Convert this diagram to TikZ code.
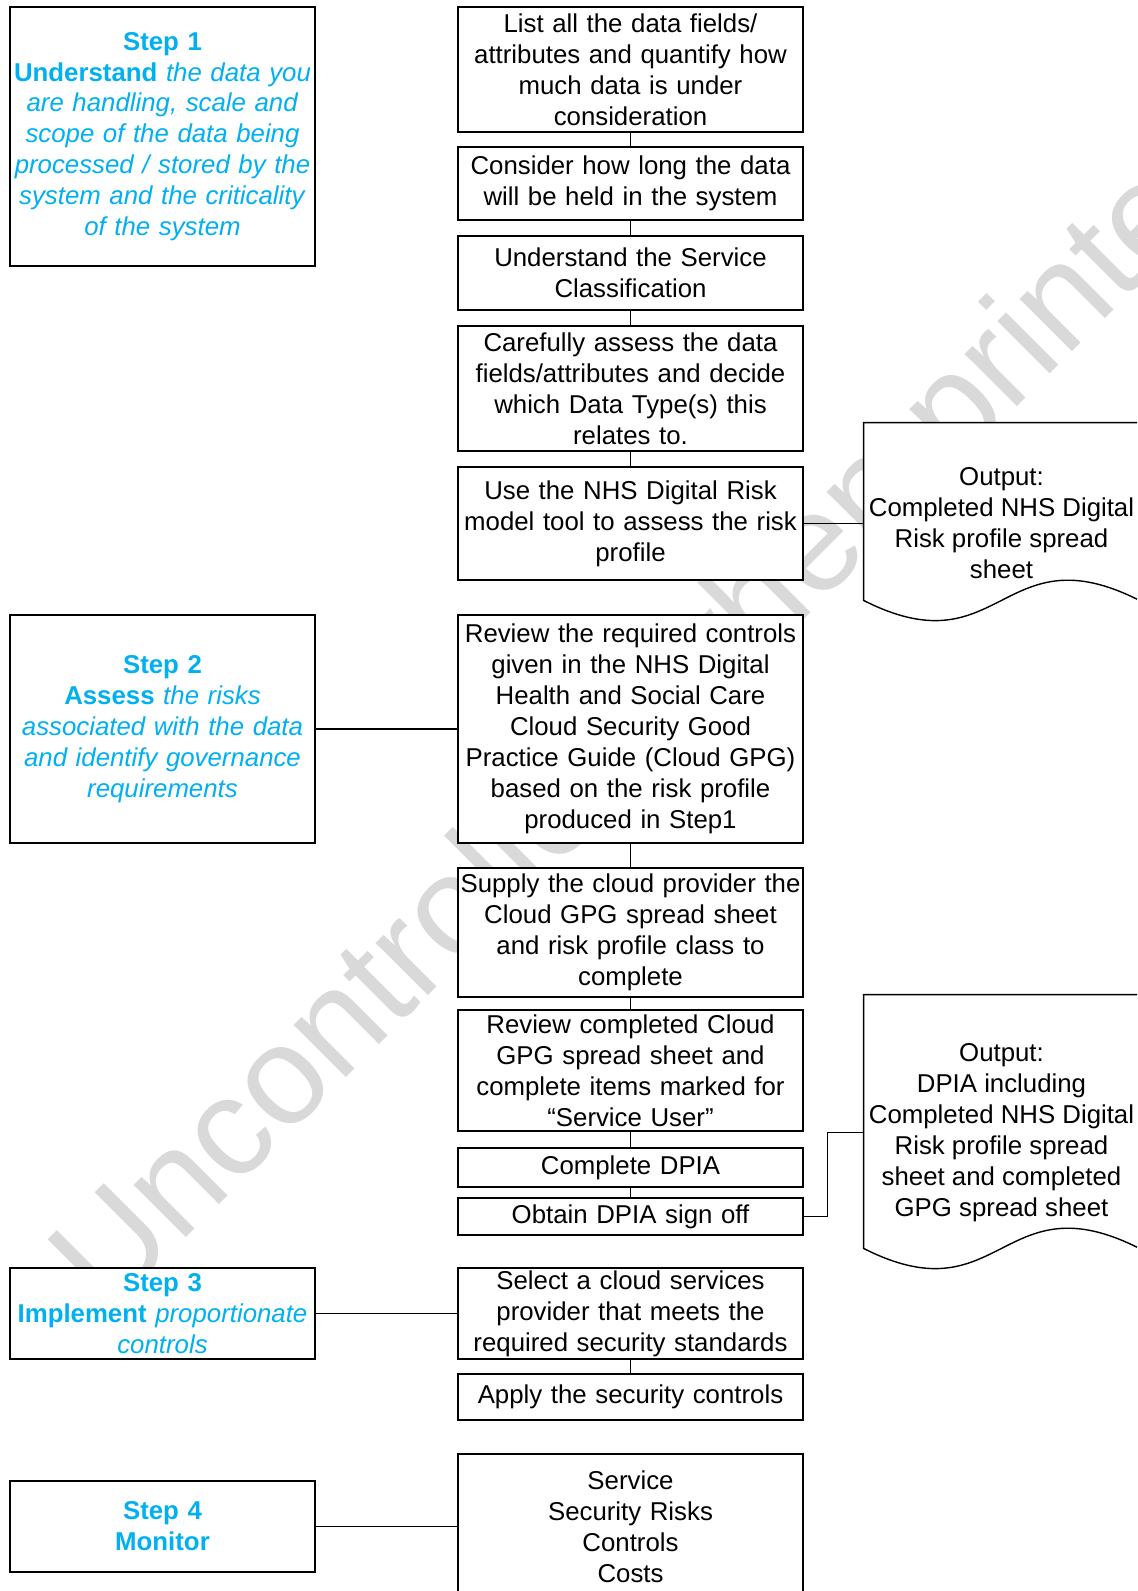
\documentclass[tikz,border=0pt]{standalone}
\usepackage{fontspec}
\setmainfont{Liberation Sans}
\usetikzlibrary{calc}

\definecolor{stepblue}{HTML}{00B0F0}
\definecolor{wmgray}{HTML}{D9D9D9}

\tikzset{
  box/.style={draw, line width=0.7pt, fill=white, inner sep=0pt, align=center,
    font=\fontsize{12.9}{15.45}\selectfont},
  taskbox/.style={box, text width=172.5pt, minimum width=172.5pt},
  stepbox/.style={box, text width=152.5pt, minimum width=152.5pt, text=stepblue},
  docframe/.style={minimum width=137.5pt, inner sep=0pt},
  doctext/.style={align=center, inner sep=0pt, font=\fontsize{12.9}{15.45}\selectfont},
  link/.style={line width=0.7pt},
  watermark/.style={text=wmgray, inner sep=0pt, font=\fontsize{70}{84}\selectfont}
}

\begin{document}
\begin{tikzpicture}[x=0.5pt, y=-0.5pt]

\useasboundingbox (0,0) rectangle (1137,1591);
\clip (0,0) rectangle (1137,1591);

% watermark
\node[watermark, anchor=base west, rotate=45] (wm) at (108,1316) {Uncontrolled when printed};

% output documents
\node[docframe, minimum height=88.5pt] (out1) at (1001.5,511.5) {};
\draw[link, fill=white] (out1.north west) -- (out1.north east) -- (out1.south east)
  .. controls ($(out1.south)+(0,-70)$) and ($(out1.south)+(0,70)$) .. (out1.south west) -- cycle;
\node[doctext] (out1txt) at ($(out1)+(0,11.5)$) {Output:\\Completed NHS Digital\\Risk profile spread\\sheet};

\node[docframe, minimum height=126.5pt] (out2) at (1001.5,1121.5) {};
\draw[link, fill=white] (out2.north west) -- (out2.north east) -- (out2.south east)
  .. controls ($(out2.south)+(0,-70)$) and ($(out2.south)+(0,70)$) .. (out2.south west) -- cycle;
\node[doctext] (out2txt) at ($(out2)+(0,11)$) {Output:\\DPIA including\\Completed NHS Digital\\Risk profile spread\\sheet and completed\\GPG spread sheet};

% steps
\node[stepbox, minimum height=129.5pt] (s1) at (162.5,136.5)
  {\textbf{Step 1}\\\textbf{Understand} \textit{the data you}\\\textit{are handling, scale and}\\\textit{scope of the data being}\\\textit{processed / stored by the}\\\textit{system and the criticality}\\\textit{of the system}};
\node[stepbox, minimum height=114pt] (s2) at (162.5,729)
  {\textbf{Step 2}\\\textbf{Assess} \textit{the risks}\\\textit{associated with the data}\\\textit{and identify governance}\\\textit{requirements}};
\node[stepbox, minimum height=45.5pt] (s3) at (162.5,1313.5)
  {\textbf{Step 3}\\\textbf{Implement} \textit{proportionate}\\\textit{controls}};
\node[stepbox, minimum height=45.5pt] (s4) at (162.5,1526.5)
  {\textbf{Step 4}\\\textbf{Monitor}};

% tasks
\node[taskbox, minimum height=62.5pt] (c1) at (630.5,69.5)
  {List all the data fields/\\attributes and quantify how\\much data is under\\consideration};
\node[taskbox, minimum height=36.5pt] (c2) at (630.5,183.5)
  {Consider how long the data\\will be held in the system};
\node[taskbox, minimum height=37pt] (c3) at (630.5,273)
  {Understand the Service\\Classification};
\node[taskbox, minimum height=62.5pt] (c4) at (630.5,388.5)
  {Carefully assess the data\\fields/attributes and decide\\which Data Type(s) this\\relates to.};
\node[taskbox, minimum height=56.5pt] (c5) at (630.5,523.5)
  {Use the NHS Digital Risk\\model tool to assess the risk\\profile};
\node[taskbox, minimum height=114pt] (c6) at (630.5,729)
  {Review the required controls\\given in the NHS Digital\\Health and Social Care\\Cloud Security Good\\Practice Guide (Cloud GPG)\\based on the risk profile\\produced in Step1};
\node[taskbox, minimum height=64.5pt] (c7) at (630.5,932.5)
  {Supply the cloud provider the\\Cloud GPG spread sheet\\and risk profile class to\\complete};
\node[taskbox, minimum height=60.5pt] (c8) at (630.5,1070.5)
  {Review completed Cloud\\GPG spread sheet and\\complete items marked for\\“Service User”};
\node[taskbox, minimum height=19.5pt] (c9) at (630.5,1167.5) {Complete DPIA};
\node[taskbox, minimum height=18.5pt] (c10) at (630.5,1216.5) {Obtain DPIA sign off};
\node[taskbox, minimum height=45.5pt] (c11) at (630.5,1313.5)
  {Select a cloud services\\provider that meets the\\required security standards};
\node[taskbox, minimum height=23pt] (c12) at (630.5,1397) {Apply the security controls};
\node[taskbox, minimum height=73pt] (c13) at (630.5,1527)
  {Service\\Security Risks\\Controls\\Costs};

% connectors
\draw[link] (c1) -- (c2);
\draw[link] (c2) -- (c3);
\draw[link] (c3) -- (c4);
\draw[link] (c4) -- (c5);
\draw[link] (c6) -- (c7);
\draw[link] (c7) -- (c8);
\draw[link] (c8) -- (c9);
\draw[link] (c9) -- (c10);
\draw[link] (c11) -- (c12);
\draw[link] (s2) -- (c6);
\draw[link] (s3) -- (c11);
\draw[link] (s4.east) -- (s4.east -| c13.west);
\draw[link] (c5.east) -- (c5.east -| out1.west);
\draw[link] (c10.east) -- ++(24,0) |- (out2txt.west -| out2.west);

\end{tikzpicture}
\end{document}
